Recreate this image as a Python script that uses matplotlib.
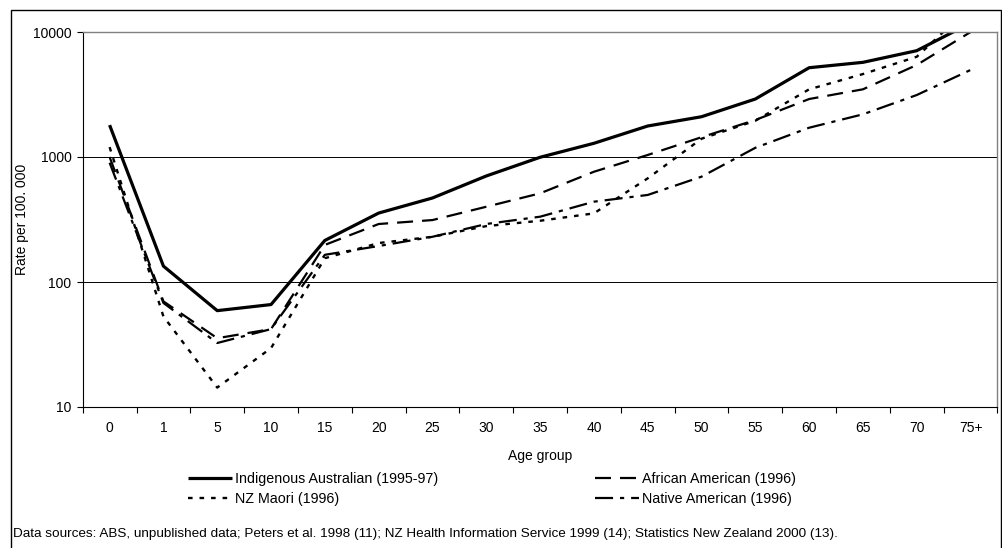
import numpy as np
import matplotlib
matplotlib.use("Agg")
import matplotlib.pyplot as plt
from matplotlib.patches import Rectangle

plt.rcParams['font.family'] = ['Liberation Sans', 'DejaVu Sans']
plt.rcParams['lines.scale_dashes'] = False

# age groups and rates per 100 000
ages = ["0", "1", "5", "10", "15", "20", "25", "30", "35", "40",
        "45", "50", "55", "60", "65", "70", "75+"]
indig_aus = [1800, 134, 59, 66, 215, 356, 470, 705, 995, 1287,
             1770, 2100, 2910, 5180, 5720, 7090, 11800]
african_am = [1000, 70, 35.5, 42, 198, 291, 313, 400, 512, 762,
              1038, 1440, 1977, 2910, 3480, 5450, 10000]
nz_maori = [1200, 53, 14.3, 29.6, 155, 205, 230, 280, 309, 354,
            675, 1400, 1950, 3480, 4610, 6340, 16000]
native_am = [900, 68, 32.5, 42, 165, 194, 230, 291, 333, 439,
             497, 696, 1185, 1715, 2196, 3133, 4970]

W, H = 1002, 548
fig = plt.figure(figsize=(W / 100, H / 100), dpi=100)
ax = fig.add_axes([82.7 / W, 1 - 407 / H, 914.8 / W, 375 / H])

x = np.arange(len(ages))
l1, = ax.plot(x, indig_aus, color='black', lw=2.3, solid_capstyle='butt')
l2, = ax.plot(x, african_am, color='black', lw=1.6,
              linestyle=(0, (11.5, 6.5)), dash_capstyle='butt')
l3, = ax.plot(x, nz_maori, color='black', lw=1.7,
              linestyle=(0, (3.3, 5.0)), dash_capstyle='butt')
l4, = ax.plot(x, native_am, color='black', lw=1.6,
              linestyle=(0, (13, 5, 3, 5)), dash_capstyle='butt')

ax.set_yscale('log')
ax.set_ylim(10, 10000)
ax.set_yticks([10, 100, 1000, 10000])
ax.set_yticklabels(['10', '100', '1000', '10000'])
ax.yaxis.set_minor_locator(matplotlib.ticker.NullLocator())
ax.set_xlim(-0.5, len(ages) - 0.5)
ax.set_xticks(np.arange(len(ages) + 1) - 0.5)
ax.set_xticklabels([])
ax.set_xticks(x, minor=True)
ax.set_xticklabels(ages, minor=True)
ax.tick_params(axis='x', which='major', direction='out', length=4, width=0.8)
ax.tick_params(axis='x', which='minor', length=0, pad=10, labelsize=10)
ax.tick_params(axis='y', direction='out', length=4, width=0.8, pad=4, labelsize=10)

ax.grid(axis='y', which='major', color='black', lw=0.7)
ax.set_axisbelow(True)
for s in ['top', 'right']:
    ax.spines[s].set_color('#808080')
    ax.spines[s].set_linewidth(1.0)
for s in ['left', 'bottom']:
    ax.spines[s].set_color('black')
    ax.spines[s].set_linewidth(0.8)

ax.set_xlabel('Age group', fontsize=10, labelpad=10)
fig.text(22 / W, 1 - 219.5 / H, 'Rate per 100. 000', rotation=90,
         ha='center', va='center', fontsize=10)

leg_kw = dict(loc='upper left', frameon=False, fontsize=10.3, borderpad=0,
              borderaxespad=0, handlelength=3.1, handletextpad=0.2,
              labelspacing=0.42)
leg1 = fig.legend([l1, l3], ['Indigenous Australian (1995-97)', 'NZ Maori (1996)'],
                  bbox_to_anchor=(188 / W, 1 - 472 / H), **leg_kw)
leg2 = fig.legend([l2, l4], ['African American (1996)', 'Native American (1996)'],
                  bbox_to_anchor=(595 / W, 1 - 472 / H), **leg_kw)

fig.text(13 / W, 1 - 533.5 / H,
         'Data sources: ABS, unpublished data; Peters et al. 1998 (11); '
         'NZ Health Information Service 1999 (14); Statistics New Zealand 2000 (13).',
         ha='left', va='center', fontsize=9.7)

fig.add_artist(Rectangle((10.5 / W, -0.05), 990.5 / W, 1.05 - 10.5 / H,
                         transform=fig.transFigure, fill=False,
                         edgecolor='black', lw=1.0))

fig.savefig('out.png', dpi=100)
